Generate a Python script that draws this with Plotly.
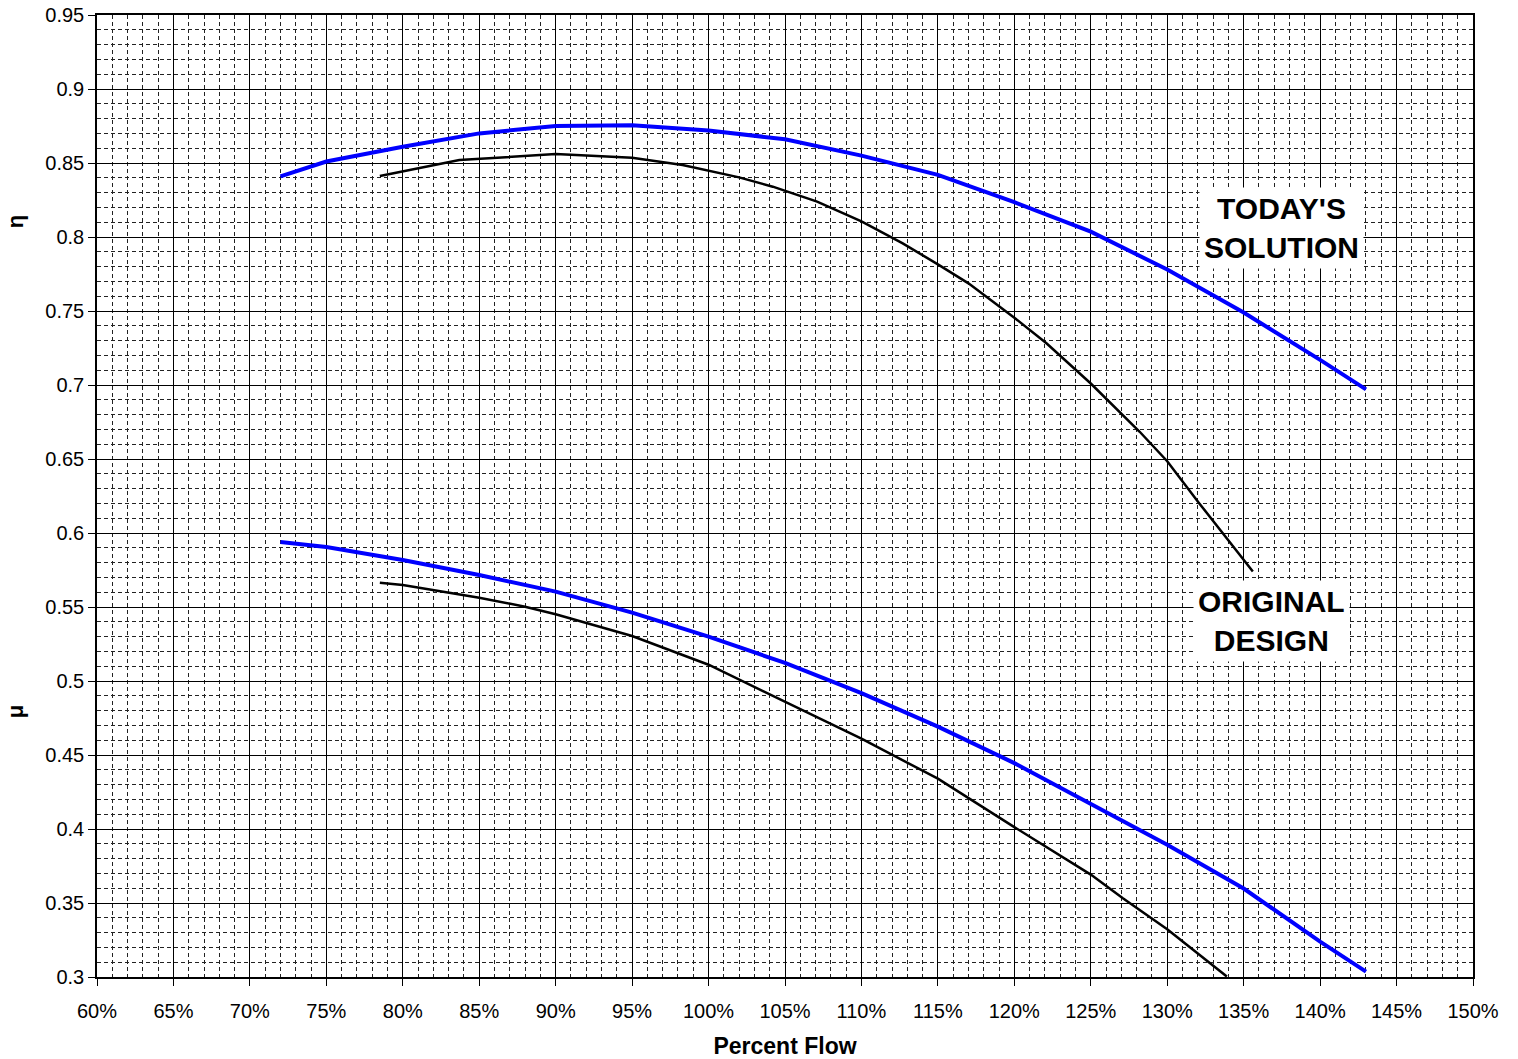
import plotly.graph_objects as go

# Percent flow (x) and coefficient readings for each design
flow_eta_today = [72, 75, 80, 85, 90, 95, 100, 105, 110, 115, 120, 125, 130, 135, 140, 143]
eta_today = [0.841, 0.851, 0.861, 0.870, 0.875, 0.8755, 0.872, 0.866, 0.855, 0.842,
             0.8235, 0.8036, 0.778, 0.749, 0.717, 0.697]

flow_eta_orig = [78.5, 80, 83.7, 90, 95, 98.3, 102, 104.2, 107.1, 110, 112.7, 115, 117,
                 120, 122.1, 125, 128.2, 130, 132.1, 135.6]
eta_orig = [0.8412, 0.8443, 0.852, 0.856, 0.8535, 0.8487, 0.8403, 0.834, 0.8239, 0.8105,
            0.7957, 0.7815, 0.7687, 0.7455, 0.7282, 0.701, 0.6684, 0.6485, 0.620, 0.574]

flow_mu_today = [72, 75, 80, 85, 90, 95, 100, 105, 110, 115, 120, 125, 130, 135, 140, 143]
mu_today = [0.5939, 0.5905, 0.5818, 0.5716, 0.5604, 0.5462, 0.530, 0.5122, 0.4918, 0.4692,
            0.4445, 0.4170, 0.3893, 0.3598, 0.3239, 0.3036]

flow_mu_orig = [78.5, 80, 85, 88, 90, 95, 100, 105, 110, 115, 120, 125, 127.1, 130, 133.9]
mu_orig = [0.5664, 0.5649, 0.5563, 0.5502, 0.5451, 0.5304, 0.511, 0.4858, 0.461, 0.434,
           0.4013, 0.3692, 0.3532, 0.3322, 0.3003]

x_ticks = list(range(60, 151, 5))
y_ticks = [round(0.3 + 0.05 * i, 2) for i in range(14)]
y_tick_text = [f"{v:g}" for v in y_ticks]

FONT = "Arial, Liberation Sans, sans-serif"
BLUE = "#0000FF"

fig = go.Figure()
fig.add_trace(go.Scatter(x=flow_eta_today, y=eta_today, mode="lines",
                         line=dict(color=BLUE, width=4)))
fig.add_trace(go.Scatter(x=flow_eta_orig, y=eta_orig, mode="lines",
                         line=dict(color="black", width=2.5)))
fig.add_trace(go.Scatter(x=flow_mu_today, y=mu_today, mode="lines",
                         line=dict(color=BLUE, width=4)))
fig.add_trace(go.Scatter(x=flow_mu_orig, y=mu_orig, mode="lines",
                         line=dict(color="black", width=2.5)))

fig.update_xaxes(
    range=[60, 150], tickvals=x_ticks, ticktext=[f"{v}%" for v in x_ticks],
    showgrid=True, gridcolor="black", gridwidth=1,
    showline=True, linecolor="black", linewidth=1.5, mirror=True,
    ticks="outside", ticklen=7, tickcolor="black", ticklabelstandoff=8,
    tickfont=dict(family=FONT, size=20, color="black"),
    minor=dict(dtick=1, showgrid=True, gridcolor="#222222", gridwidth=0.9,
               griddash="4px,3px", ticks=""),
    title=dict(text="<b>Percent Flow</b>", font=dict(family=FONT, size=23, color="black"),
               standoff=23),
    zeroline=False, automargin=False,
)
fig.update_yaxes(
    range=[0.3, 0.95], tickvals=y_ticks, ticktext=y_tick_text,
    showgrid=True, gridcolor="black", gridwidth=1,
    showline=True, linecolor="black", linewidth=1.5, mirror=True,
    ticks="outside", ticklen=7, tickcolor="black",
    tickfont=dict(family=FONT, size=20, color="black"),
    minor=dict(dtick=0.01, showgrid=True, gridcolor="#222222", gridwidth=0.9,
               griddash="4px,3px", ticks=""),
    zeroline=False, automargin=False,
)

annotations = [
    dict(text="<b>η</b>", x=-0.0595, xref="paper", y=0.81, yref="y", showarrow=False,
         xanchor="center", yanchor="middle", textangle=-90,
         font=dict(family=FONT, size=22, color="black")),
    dict(text="<b>μ</b>", x=-0.0595, xref="paper", y=0.479, yref="y", showarrow=False,
         xanchor="center", yanchor="middle", textangle=-90,
         font=dict(family=FONT, size=22, color="black")),
    dict(text="<b>TODAY'S<br>SOLUTION</b>", x=137.5, y=0.806, xref="x", yref="y",
         showarrow=False, bgcolor="white", borderpad=4,
         font=dict(family=FONT, size=30, color="black")),
    dict(text="<b>ORIGINAL<br>DESIGN</b>", x=136.85, y=0.5405, xref="x", yref="y",
         showarrow=False, bgcolor="white", borderpad=4,
         font=dict(family=FONT, size=30, color="black")),
]

fig.update_layout(
    width=1518, height=1059,
    margin=dict(l=97, r=45, t=15, b=82),
    paper_bgcolor="white", plot_bgcolor="white",
    showlegend=False, annotations=annotations,
    font=dict(family=FONT, color="black"),
)

fig.write_html("out.html")
